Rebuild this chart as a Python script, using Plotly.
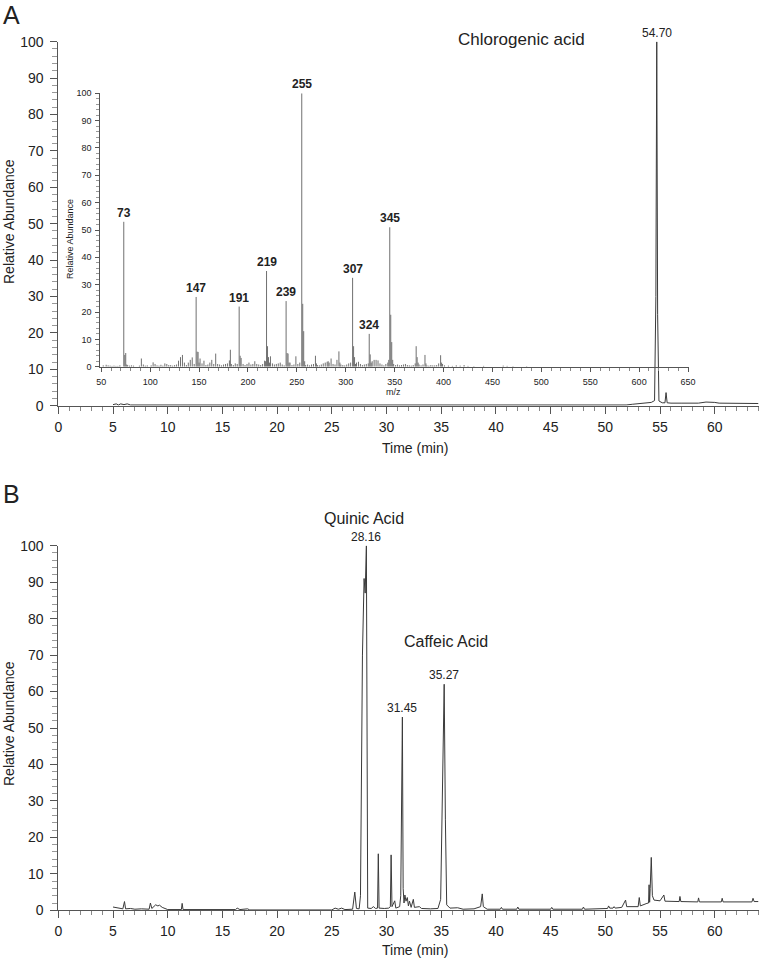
import plotly.graph_objects as go

# ---------------- Data ----------------
# Panel A: total ion chromatogram (time in min, relative abundance)
time_a = [5.0, 5.3, 5.5, 5.7, 6.0, 6.3, 6.6, 7.0, 10.0, 20.0, 30.0, 40.0, 50.0, 51.9, 52.5,
          53.0, 53.7, 54.2, 54.5, 54.62, 54.70, 54.78, 54.9, 55.2, 55.45, 55.55, 55.65,
          56.0, 57.0, 58.5, 59.2, 59.6, 60.0, 60.4, 62.0, 64.0]
abund_a = [0.3, 0.5, 0.2, 0.5, 0.3, 0.5, 0.2, 0.2, 0.1, 0.1, 0.1, 0.1, 0.1, 0.2, 0.4,
           0.5, 0.6, 0.9, 1.4, 30.0, 100.0, 25.0, 1.3, 0.8, 0.8, 3.6, 0.8,
           0.7, 0.7, 0.7, 1.0, 1.0, 0.9, 0.7, 0.6, 0.6]

# Inset: mass spectrum of chlorogenic acid peak (m/z, relative abundance)
mz = [52, 55, 57, 59, 61, 63, 65, 67, 69, 73, 74, 75, 76, 77, 79, 81, 83, 89, 91, 93, 95, 97,
      101, 103, 105, 107, 109, 111, 113, 115, 117, 119, 121, 123, 125, 127, 129, 131, 133, 135,
      137, 139, 141, 143, 145, 147, 148, 149, 150, 151, 153, 155, 157, 159, 161, 163, 165, 167,
      169, 171, 173, 175, 177, 179, 181, 182, 183, 185, 187, 189, 191, 192, 193, 195, 197, 199,
      201, 203, 205, 207, 209, 211, 213, 215, 217, 218, 219, 220, 221, 222, 223, 225, 227, 229,
      231, 233, 235, 237, 239, 240, 241, 242, 243, 245, 247, 249, 251, 253, 255, 256, 257, 258,
      259, 261, 263, 265, 267, 269, 270, 271, 273, 275, 277, 279, 281, 282, 283, 285, 287, 289,
      291, 293, 294, 295, 297, 299, 301, 303, 305, 307, 308, 309, 310, 311, 313, 315, 317, 319,
      321, 323, 324, 325, 326, 327, 329, 331, 333, 335, 337, 339, 341, 343, 344, 345, 346, 347,
      348, 349, 351, 353, 355, 357, 359, 361, 363, 365, 367, 369, 371, 372, 373, 374, 375, 377,
      379, 381, 382, 383, 385, 387, 389, 391, 393, 395, 397, 398, 399, 401, 405, 409, 413, 417,
      421, 425, 431, 441, 461, 465, 471, 485]
intensity = [0.5, 0.7, 0.5, 0.4, 0.3, 0.4, 0.3, 0.3, 0.5, 53.0, 4.3, 5.0, 0.8, 0.6, 0.4, 0.5, 0.4,
             0.4, 3.0, 0.8, 0.4, 0.5, 0.5, 1.6, 1.0, 0.5, 0.4, 0.7, 0.4, 1.2, 1.0, 0.6, 0.6, 0.4,
             0.6, 0.8, 2.2, 3.5, 4.3, 1.5, 0.6, 1.5, 2.5, 3.4, 1.0, 25.5, 5.5, 5.4, 1.5, 3.0, 1.2,
             2.2, 0.6, 0.8, 1.5, 2.5, 1.0, 4.8, 1.0, 0.8, 0.5, 0.8, 1.0, 1.2, 2.3, 6.2, 1.0, 0.6,
             1.2, 1.0, 22.0, 4.0, 3.2, 1.0, 0.6, 1.0, 1.5, 0.8, 1.0, 2.0, 1.0, 0.8, 0.6, 1.0, 2.2,
             2.0, 35.0, 7.5, 3.5, 1.5, 3.8, 1.2, 0.8, 1.0, 1.2, 1.5, 0.8, 0.5, 24.0, 5.0, 4.8, 1.5,
             1.5, 0.6, 0.8, 3.8, 1.0, 1.5, 100.0, 23.0, 13.0, 2.0, 0.6, 0.8, 0.5, 0.8, 1.0, 4.0,
             1.2, 0.6, 0.5, 0.8, 1.2, 1.5, 1.8, 2.0, 1.5, 3.0, 1.0, 0.8, 2.5, 5.6, 1.5, 0.8, 0.6,
             0.5, 0.8, 1.2, 1.5, 32.5, 7.5, 3.5, 1.0, 1.5, 1.8, 1.0, 0.6, 0.8, 1.0, 1.2, 12.0, 4.5,
             1.5, 2.0, 2.5, 2.5, 2.3, 1.2, 0.8, 0.5, 1.0, 1.5, 2.5, 51.0, 19.0, 9.0, 2.5, 1.0, 0.6,
             0.8, 0.5, 0.6, 0.8, 1.0, 0.6, 0.5, 0.4, 0.6, 1.2, 7.5, 3.5, 1.5, 0.8, 0.5, 0.8, 4.3,
             1.2, 0.5, 0.4, 0.6, 0.5, 0.5, 0.6, 1.2, 4.2, 1.5, 1.0, 0.5, 0.4, 0.3, 0.5, 0.4, 0.6,
             0.3, 0.2, 0.3, 0.4, 0.3, 0.2, 0.2]
ms_labels = ["73", "147", "191", "219", "239", "255", "307", "324", "345"]
ms_label_mz = [73, 147, 191, 219, 239, 255, 307, 324, 345]
ms_label_int = [53.0, 25.5, 22.0, 35.0, 24.0, 100.0, 32.5, 12.0, 51.0]

# Panel B: chromatogram
time_b = [5.0, 5.4, 5.9, 6.05, 6.15, 6.6, 7.0, 7.6, 8.3, 8.42, 8.55, 8.9, 9.1, 9.25, 9.5, 10.0,
          11.25, 11.32, 11.4, 16.2, 16.35, 16.6, 17.3, 17.5, 25.0, 25.3, 25.6, 25.9, 26.2, 26.9,
          27.1, 27.25, 27.5, 27.62, 27.68, 27.8, 27.95, 28.05, 28.16, 28.22, 28.28, 28.6, 28.8,
          29.0, 29.18, 29.25, 29.32, 29.8, 30.2, 30.35, 30.42, 30.5, 30.75, 30.85, 31.2, 31.3,
          31.38, 31.45, 31.52, 31.6, 31.68, 31.78, 31.9, 32.0, 32.1, 32.25, 32.45, 32.55, 33.0,
          33.2, 34.0, 34.7, 34.95, 35.1, 35.27, 35.38, 35.5, 35.8, 36.5, 37.0, 38.0, 38.6, 38.75,
          38.85, 39.2, 40.4, 40.5, 40.6, 41.9, 42.0, 42.1, 45.0, 45.1, 45.2, 47.9, 48.0, 48.1,
          50.2, 50.3, 50.4, 50.7, 50.8, 50.9, 51.5, 51.85, 51.95, 53.0, 53.1, 53.2, 53.8, 53.95,
          54.0, 54.05, 54.1, 54.15, 54.2, 54.3, 54.45, 55.0, 55.35, 55.45, 56.75, 56.82, 56.9,
          58.45, 58.52, 58.6, 60.6, 60.68, 60.76, 63.4, 63.5, 63.6, 64.0]
abund_b = [0.9, 0.6, 0.4, 2.4, 0.4, 0.5, 0.3, 0.4, 0.3, 2.0, 0.5, 1.5, 1.2, 1.4, 0.8, 0.2,
           0.2, 1.9, 0.2, 0.2, 0.6, 0.2, 0.4, 0.1, 0.1, 0.6, 0.3, 0.6, 0.2, 0.3,
           5.0, 0.5, 0.4, 4.0, 25.0, 70.0, 91.0, 87.0, 100.0, 20.0, 0.6, 0.5, 1.0,
           0.5, 0.6, 15.5, 0.6, 0.5, 0.6, 1.0, 15.2, 1.0, 2.6, 0.6, 1.0, 4.0,
           30.0, 53.0, 6.0, 2.0, 4.2, 2.5, 3.5, 1.2, 2.5, 0.8, 3.0, 0.8, 1.0,
           0.5, 0.4, 0.5, 3.0, 30.0, 62.0, 25.0, 1.5, 0.6, 0.7, 0.3, 0.4, 1.0, 4.5,
           1.0, 0.3, 0.3, 0.8, 0.3, 0.3, 0.9, 0.3, 0.3, 0.8, 0.3, 0.3, 0.9, 0.3,
           0.5, 1.2, 0.6, 0.6, 1.0, 0.6, 0.8, 2.8, 1.0, 1.0, 3.5, 1.2, 1.9, 2.0,
           7.0, 2.2, 6.0, 10.0, 14.5, 4.0, 2.8, 2.6, 4.2, 2.5, 2.4, 3.8, 2.4,
           2.3, 3.4, 2.3, 2.3, 3.3, 2.3, 2.3, 3.3, 2.4, 2.4]

# ---------------- Figure ----------------
W, H = 759, 960
FONT = "Liberation Sans, Arial, Helvetica, sans-serif"
TXT = "#222222"


def px(xp):
    return xp / W


def py(yp):
    return 1 - yp / H


fig = go.Figure()

# Panel A chromatogram
fig.add_trace(go.Scatter(x=time_a, y=abund_a, mode="lines", xaxis="x", yaxis="y",
                         line=dict(color="#3a3a3a", width=1), hoverinfo="skip"))

# Inset stick spectrum
sx, sy = [], []
for m, v in zip(mz, intensity):
    sx += [m, m, None]
    sy += [0, v, None]
fig.add_trace(go.Scatter(x=sx, y=sy, mode="lines", xaxis="x2", yaxis="y2",
                         line=dict(color="#707070", width=1), hoverinfo="skip"))

# Panel B chromatogram
fig.add_trace(go.Scatter(x=time_b, y=abund_b, mode="lines", xaxis="x3", yaxis="y3",
                         line=dict(color="#3a3a3a", width=1), hoverinfo="skip"))

main_x = dict(range=[0, 64], domain=[px(58.3), px(758.5)], showline=True, linecolor="#555555",
              linewidth=1, ticks="outside", ticklen=7, tickcolor="#555555", dtick=5, tick0=0,
              showgrid=False, zeroline=False, automargin=False,
              tickfont=dict(size=14, color=TXT, family=FONT),
              minor=dict(dtick=1, ticks="outside", ticklen=4, tickcolor="#888888"),
              ticklabelstandoff=1)
main_y = dict(range=[0, 100], showline=True, linecolor="#555555", linewidth=1,
              ticks="outside", ticklen=7, tickcolor="#555555", dtick=10, tick0=0,
              showgrid=False, zeroline=False, automargin=False,
              tickfont=dict(size=14, color=TXT, family=FONT),
              minor=dict(dtick=2, ticks="outside", ticklen=5, tickcolor="#999999"),
              ticklabelstandoff=4)

fig.update_layout(
    width=W, height=H, autosize=False,
    margin=dict(l=0, r=0, t=0, b=0, pad=0, autoexpand=False),
    paper_bgcolor="white", plot_bgcolor="rgba(0,0,0,0)", showlegend=False,
    font=dict(family=FONT, color=TXT),
    xaxis=dict(main_x, anchor="y"),
    yaxis=dict(main_y, domain=[py(405.7), py(41.7)], anchor="x"),
    xaxis3=dict(main_x, anchor="y3"),
    yaxis3=dict(main_y, domain=[py(910.3), py(545.7)], anchor="x3"),
    xaxis2=dict(range=[49, 651], domain=[px(100.3), px(689)], anchor="y2", showline=True,
                linecolor="#555555", linewidth=1, ticks="outside", ticklen=4,
                tickcolor="#555555", dtick=50, tick0=50, showgrid=False, zeroline=False,
                automargin=False, tickfont=dict(size=9, color=TXT, family=FONT),
                minor=dict(dtick=10, ticks="outside", ticklen=3, tickcolor="#888888"),
                ticklabelstandoff=2),
    yaxis2=dict(range=[0, 100], domain=[py(366.7), py(93.3)], anchor="x2", showline=True,
                linecolor="#555555", linewidth=1, ticks="outside", ticklen=4,
                tickcolor="#555555", dtick=10, tick0=0, showgrid=False, zeroline=False,
                automargin=False, tickfont=dict(size=9, color=TXT, family=FONT),
                minor=dict(dtick=2, ticks="outside", ticklen=3, tickcolor="#999999"),
                ticklabelstandoff=2),
)

ann = []


def txt(text, x, y, size, angle=0):
    return dict(text=text, x=px(x), y=py(y), xref="paper", yref="paper", xanchor="center",
                yanchor="middle", textangle=angle, showarrow=False,
                font=dict(size=size, color=TXT, family=FONT))


# Panel letters
ann.append(txt("A", 11, 14.5, 25))
ann.append(txt("B", 11, 494, 25))
# Axis titles
ann.append(txt("Relative Abundance", 9, 222, 14, -90))
ann.append(txt("Relative Abundance", 9, 724, 14, -90))
ann.append(txt("Time (min)", 415, 448, 14))
ann.append(txt("Time (min)", 415, 950, 14))
ann.append(txt("Relative Abundance", 70, 239, 9, -90))
ann.append(txt("m/z", 393, 392, 9))

# Compound names
ann.append(txt("Chlorogenic acid", 521, 40, 17))
ann.append(txt("Quinic Acid", 364, 518, 16))
ann.append(txt("Caffeic Acid", 445.5, 641, 16))

# Retention-time labels
for t, v, xr, yr in [(54.70, 100.0, "x", "y"), (28.16, 100.0, "x3", "y3"),
                     (31.45, 53.0, "x3", "y3"), (35.27, 62.0, "x3", "y3")]:
    ann.append(dict(text=f"{t:.2f}", x=t, y=v, xref=xr, yref=yr, xanchor="center",
                    yanchor="bottom", yshift=0, showarrow=False,
                    font=dict(size=12, color=TXT, family=FONT)))

# Mass labels on the inset
for lab, m, v in zip(ms_labels, ms_label_mz, ms_label_int):
    ann.append(dict(text=f"<b>{lab}</b>", x=m, y=v, xref="x2", yref="y2", xanchor="center",
                    yanchor="bottom", showarrow=False,
                    font=dict(size=12, color=TXT, family=FONT)))

fig.update_layout(annotations=ann)
# remove the default page margin so the figure starts at the window's top-left corner
fig.write_html("out.html",
               config={"displayModeBar": False, "staticPlot": True},
               post_script="document.body.style.margin='0';"
                           "document.body.style.overflow='hidden';")
